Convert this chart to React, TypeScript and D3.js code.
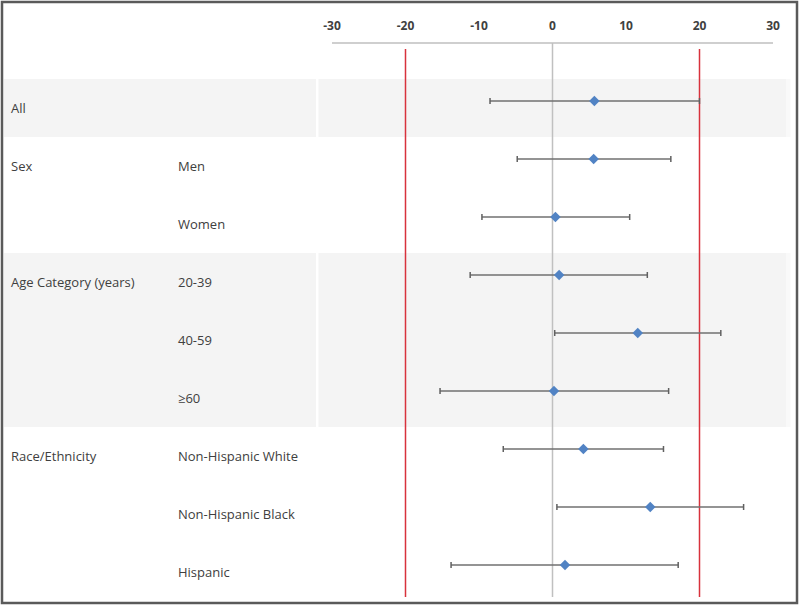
import React from "react";
import * as d3 from "d3";

const groupLabels = ["All", "Sex", "", "Age Category (years)", "", "", "Race/Ethnicity", "", ""];
const subLabels = ["", "Men", "Women", "20-39", "40-59", "≥60", "Non-Hispanic White", "Non-Hispanic Black", "Hispanic"];
const estimates = [5.7, 5.6, 0.4, 0.9, 11.6, 0.2, 4.2, 13.3, 1.7];
const lowerCI = [-8.5, -4.8, -9.6, -11.2, 0.3, -15.3, -6.7, 0.6, -13.8];
const upperCI = [20.0, 16.1, 10.5, 12.9, 22.9, 15.8, 15.1, 26.0, 17.1];
const tickValues = [-30, -20, -10, 0, 10, 20, 30];
const referenceLines = [-20, 20];
// shaded sections: [firstRow, lastRow, shaded]
const sections: [number, number, boolean][] = [
  [0, 0, true],
  [1, 2, false],
  [3, 5, true],
  [6, 8, false],
];

const W = 800;
const H = 606;

export default function App() {
  const x = d3.scaleLinear().domain([-30, 30]).range([332, 773]);
  const y = d3
    .scaleBand<number>()
    .domain(d3.range(subLabels.length))
    .range([79, 601])
    .padding(0);
  const bw = y.bandwidth();
  const pointOffset = -7;
  const diamond = d3.symbol().type(d3.symbolDiamond2).size(70)();
  const textColor = "#404040";
  const font = "'Open Sans', 'Noto Sans', sans-serif";

  return (
    <svg
      width={W}
      height={H}
      style={{ position: "absolute", left: 0, top: 0, background: "#fff" }}
    >
      {/* shaded bands */}
      {sections.map(([a, b, shaded], i) =>
        shaded ? (
          <g key={i}>
            <rect x={4} y={y(a)!} width={312} height={y(b)! + bw - y(a)!} fill="#f4f4f4" />
            <rect x={318.5} y={y(a)!} width={468} height={y(b)! + bw - y(a)!} fill="#f4f4f4" />
            <rect x={786.5} y={y(a)!} width={4} height={y(b)! + bw - y(a)!} fill="#f9f9f9" />
          </g>
        ) : null
      )}

      {/* axis */}
      <line x1={x(-30)} x2={x(30)} y1={43} y2={43} stroke="#bfbfbf" strokeWidth={1.3} />
      {tickValues.map((t) => (
        <text
          key={t}
          x={x(t)}
          y={30}
          textAnchor="middle"
          fontFamily={font}
          fontWeight="bold"
          fontSize={12}
          fill={textColor}
        >
          {t}
        </text>
      ))}

      {/* zero line */}
      <line x1={x(0)} x2={x(0)} y1={43} y2={597} stroke="#c0c0c0" strokeWidth={1.5} />
      {/* reference lines */}
      {referenceLines.map((r) => (
        <line key={r} x1={x(r)} x2={x(r)} y1={49} y2={597} stroke="#d8323c" strokeWidth={1.5} />
      ))}

      {/* labels */}
      {subLabels.map((s, i) => {
        const cy = y(i)! + bw / 2;
        return (
          <g key={i} fontFamily={font} fontSize={13} fill={textColor}>
            {groupLabels[i] && (
              <text x={11} y={cy} dominantBaseline="central">
                {groupLabels[i]}
              </text>
            )}
            {s && (
              <text x={178} y={cy} dominantBaseline="central">
                {s}
              </text>
            )}
          </g>
        );
      })}

      {/* error bars and points */}
      {estimates.map((e, i) => {
        const cy = y(i)! + bw / 2 + pointOffset;
        const x1 = x(lowerCI[i]);
        const x2 = x(upperCI[i]);
        return (
          <g key={i}>
            <line x1={x1} x2={x2} y1={cy} y2={cy} stroke="#707070" strokeWidth={1.5} />
            <line x1={x1} x2={x1} y1={cy - 3} y2={cy + 3} stroke="#606060" strokeWidth={1.5} />
            <line x1={x2} x2={x2} y1={cy - 3} y2={cy + 3} stroke="#606060" strokeWidth={1.5} />
            <path d={diamond!} transform={`translate(${x(e)},${cy})`} fill="#5183c4" />
          </g>
        );
      })}

      {/* frame */}
      <rect x={2} y={2} width={795} height={601} fill="none" stroke="#5a5a5a" strokeWidth={2.5} />
    </svg>
  );
}
